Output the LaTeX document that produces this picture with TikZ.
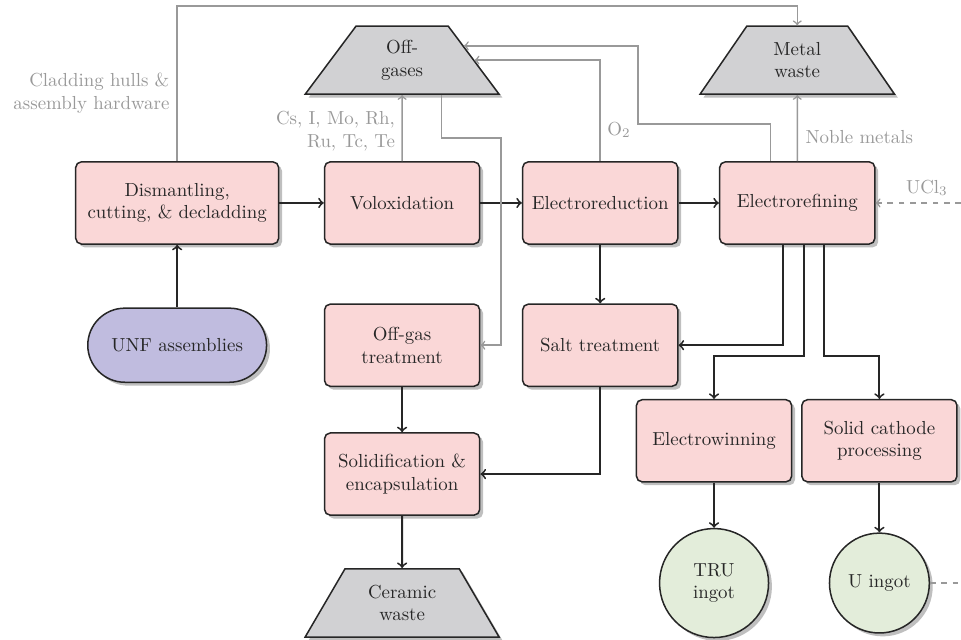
\documentclass[tikz,border=0pt]{standalone}
\usepackage{amsmath}
\usepackage{xcolor}
\usetikzlibrary{calc,shapes.geometric,shadows}

\definecolor{procpink}{HTML}{FAD7D7}
\definecolor{wastegray}{HTML}{D1D1D3}
\definecolor{feedpurple}{HTML}{C0BCDF}
\definecolor{ingotgreen}{HTML}{E3EDDA}

\begin{document}
\begin{tikzpicture}[
  text=black!85,
  boxshadow/.style={drop shadow={shadow xshift=1.8pt, shadow yshift=-1.8pt, fill=black!25, opacity=1}},
  process/.style={rectangle, rounded corners=3pt, draw=black!85, thick, fill=procpink, minimum width=2.89cm, minimum height=1.53cm, align=center, boxshadow},
  waste/.style={trapezium, trapezium angle=60, trapezium stretches=true, draw=black!85, thick, fill=wastegray, minimum width=3.63cm, minimum height=1.27cm, align=center, boxshadow},
  feed/.style={rectangle, rounded corners=0.69cm, draw=black!85, thick, fill=feedpurple, minimum width=3.33cm, minimum height=1.38cm, boxshadow},
  ingot/.style={circle, draw=black!85, thick, fill=ingotgreen, minimum size=1.86cm, align=center, inner sep=1pt, boxshadow},
  flow/.style={line width=1pt, black!85, ->},
  sideline/.style={thick, black!40},
  side/.style={sideline, ->},
  lbl/.style={text=black!40}
]

% frame
\useasboundingbox (0,0) rectangle (17.90,-11.92);

% Process nodes
\node[process, minimum width=3.78cm] (dis) at (3.30,-3.78) {Dismantling,\\cutting, \& decladding};
\node[process] (vol) at (7.49,-3.78) {Voloxidation};
\node[process] (ered) at (11.18,-3.78) {Electroreduction};
\node[process] (eref) at (14.85,-3.78) {Electrorefining};
\node[process] (ogt) at (7.49,-6.43) {Off-gas\\treatment};
\node[process] (salt) at (11.18,-6.43) {Salt treatment};
\node[process] (solid) at (7.49,-8.83) {Solidification \&\\encapsulation};
\node[process] (ew) at (13.30,-8.21) {Electrowinning};
\node[process] (sc) at (16.38,-8.21) {Solid cathode\\processing};

% Feed, waste and product nodes
\node[feed] (unf) at (3.30,-6.43) {UNF assemblies};
\node[waste] (og) at (7.49,-1.12) {Off-\\gases};
\node[waste] (mw) at (14.85,-1.12) {Metal\\waste};
\node[waste] (cw) at (7.49,-11.23) {Ceramic\\waste};
\node[ingot, minimum size=2.03cm] (tru) at (13.30,-10.86) {TRU\\ingot};
\node[ingot] (u) at (16.38,-10.86) {U ingot};

% Free ends and bends
\coordinate (top) at (0,-0.11);
\coordinate (ogin) at ($(og.top right corner)!0.295!(og.bottom right corner)$);
\coordinate (uclin) at (17.90,-3.78);
\coordinate (uout) at (17.90,-10.86);

% Main flow
\draw[flow] (unf) -- (dis);
\draw[flow] (dis) -- (vol);
\draw[flow] (vol) -- (ered);
\draw[flow] (ered) -- (eref);
\draw[flow] (ered) -- (salt);
\draw[flow] (ogt) -- (solid);
\draw[flow] (solid) -- (cw);
\draw[flow] (salt.south) |- (solid.east);
\draw[flow] ([xshift=-0.26cm]eref.south) |- (salt.east);
\draw[flow] ([xshift=0.13cm]eref.south) |- ([yshift=0.8cm]ew.north) -- (ew.north);
\draw[flow] ([xshift=0.50cm]eref.south) |- ([yshift=0.8cm]sc.north) -- (sc.north);
\draw[flow] (ew) -- (tru);
\draw[flow] (sc) -- (u);

% Side streams
\draw[side] (dis.north) -- (dis.north |- top) -| (mw.north);
\draw[side] (vol) -- (og);
\draw[side] (eref) -- (mw);
\draw[side] (ered.north) |- (og.east);
\draw[side] ([xshift=-0.50cm]eref.north) |- (11.88,-2.31) |- (ogin);
\draw[side] ([xshift=0.73cm]og.south) |- (9.33,-2.57) |- (ogt.east);
\draw[side, dashed] (uclin) -- node[lbl, above, pos=0.4] (ucl) {UCl$_3$} (eref);
\draw[sideline, dashed] (u) -- (uout);

% Labels
\node[lbl, anchor=east, align=right] (clad) at (3.28,-1.73) {Cladding hulls \&\\assembly hardware};
\node[lbl, anchor=east, align=right] (fp) at (7.48,-2.44) {Cs, I, Mo, Rh,\\Ru, Tc, Te};
\node[lbl, anchor=west] (oxy) at (11.19,-2.42) {O$_2$};
\node[lbl, anchor=west] (noble) at (14.88,-2.55) {Noble metals};

\end{tikzpicture}
\end{document}
